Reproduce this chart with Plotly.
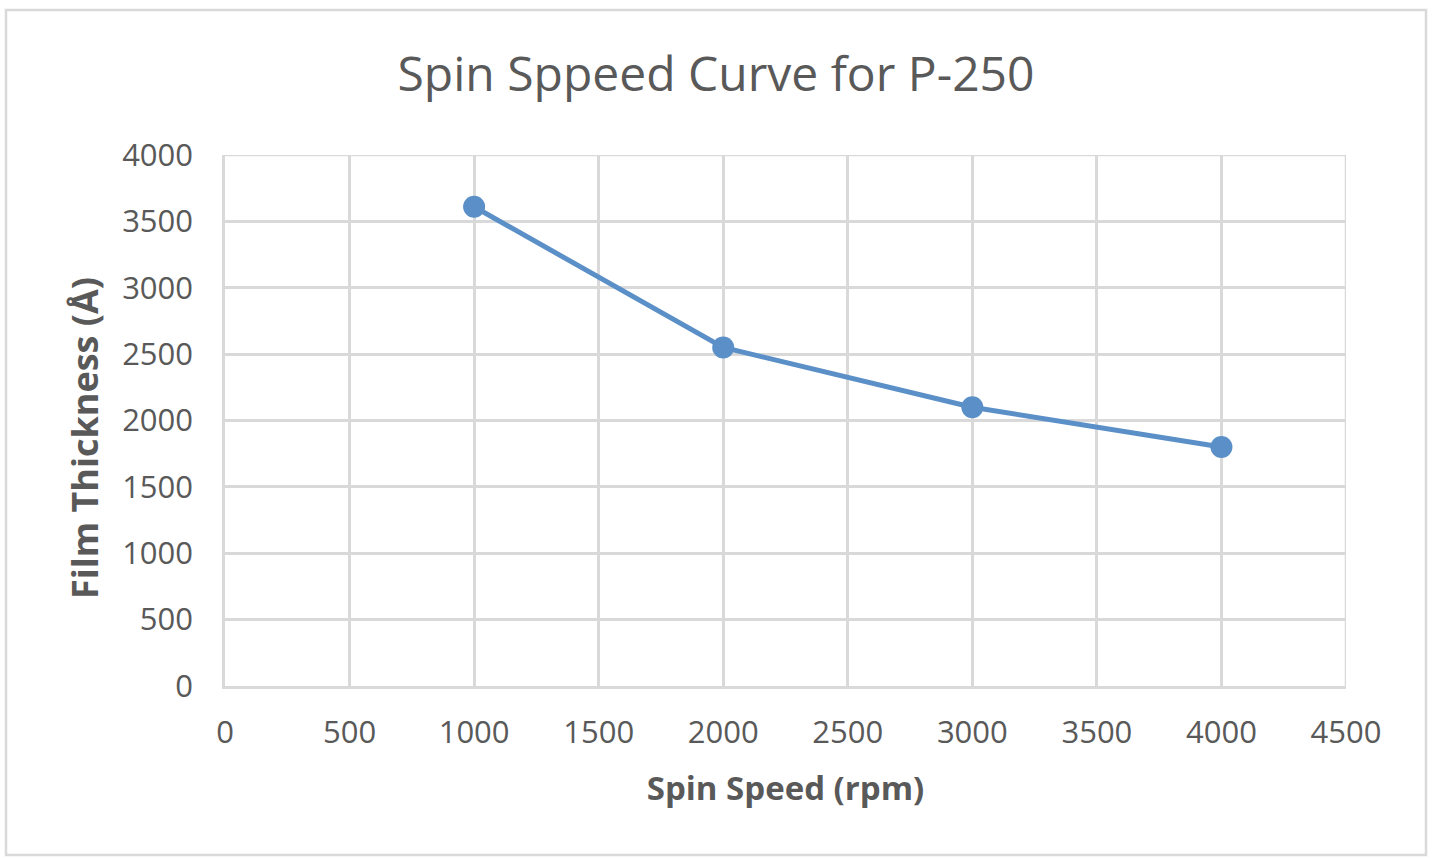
import plotly.graph_objects as go

spin_speed = [1000, 2000, 3000, 4000]
thickness = [3610, 2550, 2100, 1800]

title_text = "Spin Sppeed Curve for P-250"
x_title = "Spin Speed (rpm)"
y_title = "Film Thickness (Å)"

W, H = 1433, 858
L, R, T, B = 225, 87, 155, 172
pw, ph = W - L - R, H - T - B

def px_x(p):
    return (p - L) / pw

def px_y(p):
    return (H - B - p) / ph

gray = "#595959"
grid = "#D9D9D9"
blue = "#5B8FC7"

fig = go.Figure()
fig.add_trace(go.Scatter(
    x=spin_speed, y=thickness, mode="lines+markers",
    line=dict(color=blue, width=5),
    marker=dict(color=blue, size=22),
    showlegend=False,
))

fig.update_layout(
    width=W, height=H,
    margin=dict(l=L, r=R, t=T, b=B, pad=0),
    paper_bgcolor="white", plot_bgcolor="white",
    font=dict(family="Open Sans", color=gray),
    title=dict(text=title_text, x=716 / W, xref="container", xanchor="center",
               y=1 - 74 / H, yanchor="middle", yref="container",
               font=dict(size=48, color=gray)),
    xaxis=dict(range=[0, 4500], dtick=500, tick0=0,
               showgrid=True, gridcolor=grid, gridwidth=2.5,
               showline=True, linecolor=grid, linewidth=2.5,
               zeroline=False, ticks="", ticklabelstandoff=17,
               tickfont=dict(size=31, color=gray),
               title=dict(text=x_title, font=dict(size=33, color=gray, family="Open Sans", weight="bold"), standoff=26)),
    yaxis=dict(range=[0, 4000], dtick=500, tick0=0,
               showgrid=True, gridcolor=grid, gridwidth=2.5,
               showline=True, linecolor=grid, linewidth=2.5,
               zeroline=False, ticks="", ticklabelstandoff=23,
               tickfont=dict(size=31, color=gray)),
)

fig.add_annotation(text=y_title, textangle=-90, showarrow=False,
                   xref="paper", yref="paper", x=px_x(84), y=px_y(438),
                   xanchor="center", yanchor="middle",
                   font=dict(size=36, color=gray, family="Open Sans", weight="bold"))

fig.add_shape(type="line", xref="x", yref="y", x0=4500, x1=4500, y0=0, y1=4000,
              line=dict(color=grid, width=2.5), layer="below")
fig.add_shape(type="line", xref="x", yref="y", x0=0, x1=4500, y0=4000, y1=4000,
              line=dict(color=grid, width=2.5), layer="below")

fig.add_shape(type="rect", xref="paper", yref="paper",
              x0=px_x(6), x1=px_x(1426), y0=px_y(855), y1=px_y(10),
              line=dict(color="#D9D9D9", width=2.5), fillcolor="rgba(0,0,0,0)", layer="below")

fig.write_html("out.html", config={"displayModeBar": False},
               post_script="document.body.style.margin='0px';")
